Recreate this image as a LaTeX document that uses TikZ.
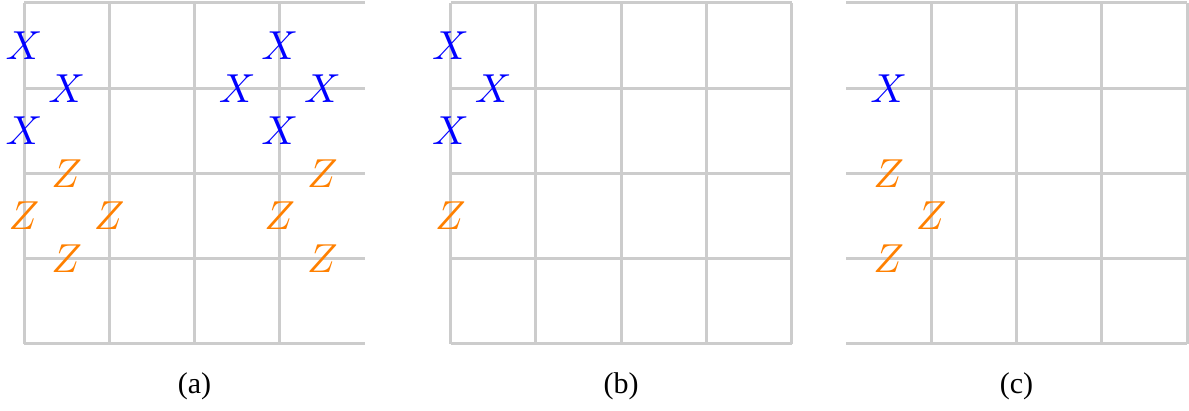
\documentclass[tikz,border=0pt]{standalone}
\usepackage[no-math]{fontspec}
\setmainfont{Liberation Serif}
\begin{document}
\begin{tikzpicture}[x=1pt,y=-1pt,
  gridline/.style={draw=black!20,line width=3pt},
  xq/.style={text=blue,scale=4.05,inner sep=0pt},
  zq/.style={text=orange,scale=4.05,inner sep=0pt},
  captext/.style={scale=3.0,inner sep=0pt}]
\useasboundingbox (0,0) rectangle (1189,411);
\def\s{85.25}
% grid (a): no right vertical
\foreach \k in {0,1,2,3,4} \draw[gridline] (24,3+\k*\s) -- (365,3+\k*\s);
\foreach \k in {0,1,2,3} \draw[gridline] (24+\k*\s,3) -- (24+\k*\s,344);
% grid (b): full
\foreach \k in {0,1,2,3,4} \draw[gridline] (450.5,3+\k*\s) -- (791.5,3+\k*\s);
\foreach \k in {0,1,2,3,4} \draw[gridline] (450.5+\k*\s,3) -- (450.5+\k*\s,344);
% grid (c): no left vertical
\foreach \k in {0,1,2,3,4} \draw[gridline] (846,3+\k*\s) -- (1187,3+\k*\s);
\foreach \k in {1,2,3,4} \draw[gridline] (846+\k*\s,3) -- (846+\k*\s,344);
% (a) letters
\node[xq] (a1) at (24,{3+0.5*\s}) {$X$};
\node[xq] (a2) at ({24+0.5*\s},{3+\s}) {$X$};
\node[xq] (a3) at (24,{3+1.5*\s}) {$X$};
\node[zq] (a4) at ({24+0.5*\s},{3+2*\s}) {$Z$};
\node[zq] (a5) at (24,{3+2.5*\s}) {$Z$};
\node[zq] (a6) at ({24+\s},{3+2.5*\s}) {$Z$};
\node[zq] (a7) at ({24+0.5*\s},{3+3*\s}) {$Z$};
\node[xq] (a8) at ({24+3*\s},{3+0.5*\s}) {$X$};
\node[xq] (a9) at ({24+2.5*\s},{3+\s}) {$X$};
\node[xq] (a10) at ({24+3.5*\s},{3+\s}) {$X$};
\node[xq] (a11) at ({24+3*\s},{3+1.5*\s}) {$X$};
\node[zq] (a12) at ({24+3.5*\s},{3+2*\s}) {$Z$};
\node[zq] (a13) at ({24+3*\s},{3+2.5*\s}) {$Z$};
\node[zq] (a14) at ({24+3.5*\s},{3+3*\s}) {$Z$};
% (b) letters
\node[xq] (b1) at (450.5,{3+0.5*\s}) {$X$};
\node[xq] (b2) at ({450.5+0.5*\s},{3+\s}) {$X$};
\node[xq] (b3) at (450.5,{3+1.5*\s}) {$X$};
\node[zq] (b4) at (450.5,{3+2.5*\s}) {$Z$};
% (c) letters
\node[xq] (c1) at ({846+0.5*\s},{3+\s}) {$X$};
\node[zq] (c2) at ({846+0.5*\s},{3+2*\s}) {$Z$};
\node[zq] (c3) at ({846+\s},{3+2.5*\s}) {$Z$};
\node[zq] (c4) at ({846+0.5*\s},{3+3*\s}) {$Z$};
% captions
\node[captext] (la) at (194.5,386) {(a)};
\node[captext] (lb) at (621,386) {(b)};
\node[captext] (lc) at (1016.5,386) {(c)};
\end{tikzpicture}
\end{document}
